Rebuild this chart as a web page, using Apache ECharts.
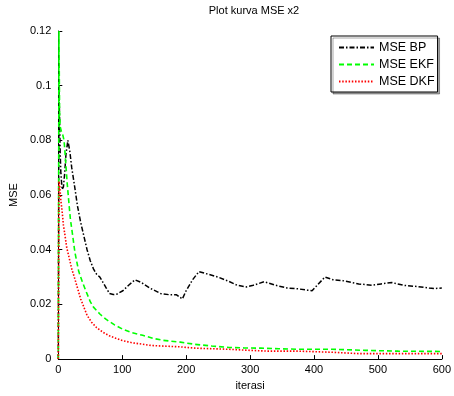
<!DOCTYPE html>
<html>
<head>
<meta charset="utf-8">
<script src="https://cdn.jsdelivr.net/npm/echarts@6/dist/echarts.min.js"></script>
<style>html,body{margin:0;padding:0;background:#fff}#c{width:454px;height:396px}</style>
</head>
<body>
<div id="c"></div>
<script>
const seriesNames = ['MSE BP', 'MSE EKF', 'MSE DKF'];
const xTicks = [0, 100, 200, 300, 400, 500, 600];
const yTicks = [0, 0.02, 0.04, 0.06, 0.08, 0.1, 0.12];

const bpData = [[0,0],[1,0.100],[2,0.088],[3,0.075],[4,0.068],[6,0.062],[8,0.063],[10,0.068],[12,0.075],[15,0.080],[18,0.076],[21,0.070],[25,0.064],[30,0.056],[35,0.050],[40,0.045],[45,0.040],[50,0.036],[55,0.033],[60,0.031],[65,0.030],[70,0.028],[75,0.026],[80,0.024],[86,0.0236],[92,0.0238],[101,0.025],[110,0.027],[120,0.029],[130,0.028],[143,0.026],[160,0.024],[175,0.0235],[185,0.0235],[194,0.022],[200,0.025],[210,0.029],[220,0.032],[235,0.031],[250,0.030],[266,0.0285],[280,0.027],[294,0.0264],[305,0.027],[322,0.0283],[340,0.027],[358,0.026],[375,0.0257],[390,0.0252],[397,0.025],[405,0.027],[417,0.030],[430,0.029],[445,0.0287],[470,0.0275],[491,0.027],[505,0.0275],[522,0.028],[540,0.027],[563,0.0265],[580,0.026],[589,0.0258],[600,0.026]];

const ekfData = [[0,0],[1,0.120],[2,0.090],[3,0.085],[5,0.083],[7,0.082],[9,0.080],[11,0.074],[14,0.064],[17,0.056],[19,0.051],[22,0.046],[26,0.039],[32,0.032],[38,0.028],[43,0.025],[50,0.021],[55,0.019],[65,0.0165],[75,0.0145],[88,0.0125],[101,0.0109],[115,0.0097],[132,0.0087],[150,0.0075],[163,0.0069],[191,0.0062],[214,0.0054],[240,0.0048],[266,0.0043],[290,0.0041],[317,0.004],[345,0.0038],[375,0.0036],[429,0.0036],[480,0.0032],[532,0.0029],[600,0.0028]];

const dkfData = [[0,0],[1,0.065],[2,0.064],[4,0.058],[6,0.054],[8,0.049],[10,0.046],[13,0.041],[17,0.037],[21,0.033],[25,0.030],[30,0.026],[35,0.022],[40,0.019],[45,0.016],[52,0.0135],[60,0.0115],[70,0.0098],[80,0.0085],[90,0.0076],[100,0.0068],[115,0.006],[130,0.0055],[145,0.005],[160,0.0048],[190,0.0045],[214,0.004],[240,0.0038],[266,0.0036],[300,0.0032],[328,0.0029],[375,0.0029],[429,0.0025],[471,0.002],[530,0.002],[600,0.002]];

const FONT = 'Liberation Sans, Arial, sans-serif';
const chart = echarts.init(document.getElementById('c'), null, {renderer: 'canvas'});
chart.setOption({
  animation: false,
  backgroundColor: '#fff',
  title: {
    text: 'Plot kurva MSE x2',
    left: 249, top: 0, textAlign: 'center',
    textStyle: {fontFamily: FONT, fontSize: 11, fontWeight: 'normal', color: '#000'}
  },
  grid: {left: 54, right: 10, top: 31, bottom: 34},
  legend: {
    orient: 'vertical',
    left: 331, top: 36,
    padding: [5, 3, 4, 7],
    itemGap: 4,
    itemWidth: 35, itemHeight: 14,
    borderColor: '#000', borderWidth: 1,
    backgroundColor: '#fff',
    shadowColor: 'rgba(0,0,0,0.35)', shadowOffsetX: 2, shadowOffsetY: 2, shadowBlur: 0,
    itemStyle: {opacity: 0},
    textStyle: {fontFamily: FONT, fontSize: 12.5, color: '#000'},
    data: seriesNames
  },
  xAxis: {
    type: 'value', min: xTicks[0], max: xTicks[xTicks.length - 1], interval: 100,
    name: 'iterasi', nameLocation: 'middle', nameGap: 20,
    nameTextStyle: {fontFamily: FONT, fontSize: 11, color: '#000'},
    axisLine: {lineStyle: {color: '#000'}},
    axisTick: {inside: true, length: 4, lineStyle: {color: '#000'}},
    axisLabel: {fontFamily: FONT, fontSize: 11, color: '#000', margin: 5},
    splitLine: {show: false}
  },
  yAxis: {
    type: 'value', min: yTicks[0], max: yTicks[yTicks.length - 1], interval: 0.02,
    name: 'MSE', nameLocation: 'middle', nameGap: 36, nameRotate: 90,
    nameTextStyle: {fontFamily: FONT, fontSize: 11, color: '#000'},
    axisLine: {show: true, lineStyle: {color: '#000'}},
    axisTick: {show: true, inside: true, length: 4, lineStyle: {color: '#000'}},
    axisLabel: {fontFamily: FONT, fontSize: 11, color: '#000', margin: 7},
    splitLine: {show: false}
  },
  series: [
    {name: seriesNames[0], type: 'line', data: bpData, showSymbol: false, symbol: 'none',
     lineStyle: {color: '#000', width: 1.5, type: [5, 2, 1.5, 2]}, itemStyle: {color: '#000'}},
    {name: seriesNames[1], type: 'line', data: ekfData, showSymbol: false, symbol: 'none',
     lineStyle: {color: '#00ff00', width: 1.6, type: [5, 3]}, itemStyle: {color: '#00ff00'}},
    {name: seriesNames[2], type: 'line', data: dkfData, showSymbol: false, symbol: 'none',
     lineStyle: {color: '#ff0000', width: 1.6, type: [1.5, 1.7]}, itemStyle: {color: '#ff0000'}}
  ]
});
</script>
</body>
</html>
